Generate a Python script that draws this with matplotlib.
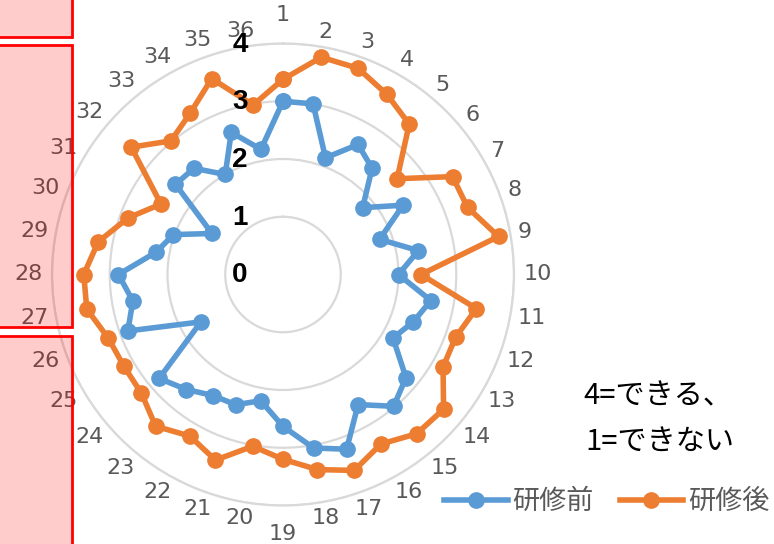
import numpy as np
import matplotlib
matplotlib.use("Agg")
import matplotlib.pyplot as plt
from matplotlib.transforms import offset_copy
from matplotlib.lines import Line2D
from matplotlib.patches import Rectangle
from matplotlib.font_manager import FontProperties

categories = [str(i) for i in range(1, 37)]
before = [3.0, 3.0, 2.15, 2.6, 2.4, 1.8, 2.4, 1.78, 2.38, 2.0, 2.6, 2.4,
          2.2, 2.78, 2.98, 2.6, 3.22, 3.05, 2.63, 2.22, 2.4, 2.42, 2.6, 2.8,
          1.64, 2.86, 2.64, 2.85, 2.23, 2.02, 1.42, 2.43, 2.4, 2.0, 2.62, 2.2]
after = [3.38, 3.82, 3.8, 3.6, 3.4, 2.58, 3.39, 3.4, 3.79, 2.39, 3.4, 3.18,
         3.2, 3.63, 3.6, 3.39, 3.61, 3.43, 3.2, 3.02, 3.42, 3.23, 3.43, 3.2,
         3.18, 3.22, 3.45, 3.45, 3.25, 2.86, 2.44, 3.43, 3.02, 3.22, 3.61, 2.98]
series_names = ["研修前", "研修後"]
ring_ticks = [0, 1, 2, 3, 4]
note_lines = ["4=できる、", "1=できない"]

c_blue = "#5B9BD5"
c_orange = "#ED7D31"
grid_c = "#D9D9D9"
text_gray = "#595959"

W, H = 774, 544
fig = plt.figure(figsize=(W / 100, H / 100), dpi=100)
cx, cy, R = 283, 274.5, 231
ax = fig.add_axes([(cx - R) / W, (H - cy - R) / H, 2 * R / W, 2 * R / H],
                  projection="polar")
ax.set_theta_zero_location("N")
ax.set_theta_direction(-1)
ax.set_ylim(0, 4)
ax.set_yticks([1, 2, 3, 4])
ax.set_yticklabels([])
ax.set_xticks([])
ax.yaxis.grid(True, color=grid_c, lw=1.6)
ax.spines["polar"].set_color(grid_c)
ax.spines["polar"].set_linewidth(1.6)
ax.set_facecolor("none")

n = len(categories)
theta = np.deg2rad(np.arange(n) * 360.0 / n)
th_c = np.append(theta, theta[0])

for vals, col in ((before, c_blue), (after, c_orange)):
    v = np.append(vals, vals[0])
    ax.plot(th_c, v, color=col, lw=4, marker="o", ms=11, clip_on=False,
            solid_joinstyle="round", zorder=3)

# ring labels
for v in ring_ticks:
    ax.text(0, v, str(v),
            transform=offset_copy(ax.transData, fig=fig, x=-43, y=-1, units="dots"),
            ha="center", va="center", fontsize=20, fontweight="bold",
            family="Liberation Sans", color="black", zorder=4)

# spoke labels
for k, lab in enumerate(categories):
    th = theta[k]
    s, c = np.sin(th), np.cos(th)
    w = 13.8 * len(lab)
    h = 16.5
    if abs(c) > 0.99:
        g = 20
    elif abs(s) > 0.99:
        g = 10
    else:
        g = 6
    d = g + abs(s) * w / 2 + abs(c) * h / 2
    ax.text(th, 4, lab,
            transform=offset_copy(ax.transData, fig=fig, x=d * s, y=d * c, units="dots"),
            ha="center", va="center", fontsize=16, family="DejaVu Sans",
            color=text_gray)

# note text
fig.text(583 / W, 1 - 396.7 / H, note_lines[0], ha="left", va="center",
         fontsize=21, family=["Noto Sans CJK JP", "DejaVu Sans"], color="black")
fig.text(585 / W, 1 - 441.7 / H, note_lines[1], ha="left", va="center",
         fontsize=21, family=["Noto Sans CJK JP", "DejaVu Sans"], color="black")

# legend
handles = [Line2D([], [], color=c_blue, lw=4, marker="o", ms=11),
           Line2D([], [], color=c_orange, lw=4, marker="o", ms=11)]
fig.legend(handles, series_names, loc="center left",
           bbox_to_anchor=(444 / W, 1 - 501.7 / H), frameon=False, ncol=2,
           borderpad=0, borderaxespad=0, handlelength=2.35, handletextpad=0.18,
           columnspacing=0.95, markerscale=1.0,
           prop=FontProperties(family="Noto Sans CJK JP", size=19.5),
           labelcolor=text_gray)

# pink overlay boxes
boxes = [(36.5, -10), (326.5, 45), (600, 336)]
for bottom_px, top_px in boxes:
    y0 = 1 - bottom_px / H
    y1 = 1 - top_px / H
    rect = Rectangle((-10 / W, y0), (71.7 + 10) / W, y1 - y0,
                     transform=fig.transFigure, facecolor=(1, 0, 0, 0.2),
                     edgecolor="#FF0000", lw=2, zorder=10)
    fig.add_artist(rect)

fig.savefig("out.png", dpi=100)
